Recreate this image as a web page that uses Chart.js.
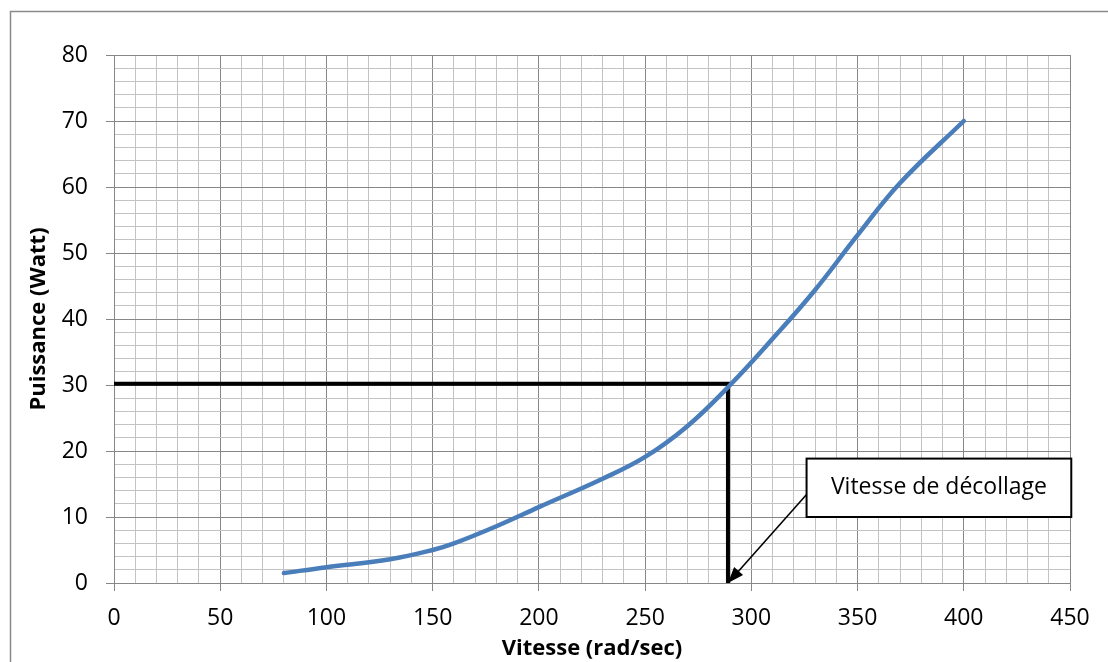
<!DOCTYPE html>
<html>
<head>
<meta charset="utf-8">
<script src="https://cdn.jsdelivr.net/npm/chart.js@4"></script>
<style>
  html, body { margin: 0; padding: 0; background: #fff; overflow: hidden; }
  #wrap { position: relative; width: 1108px; height: 662px; }
</style>
</head>
<body>
<div id="wrap"><canvas id="chart" width="1108" height="662"></canvas></div>
<script>
// Puissance en fonction de la vitesse
const vitesse = [80, 100, 130, 150, 160, 180, 200, 230, 250, 270, 290, 310, 330, 350, 370, 400];
const puissance = [1.5, 2.4, 3.6, 5.0, 6.0, 8.6, 11.5, 15.8, 19.1, 23.8, 30.0, 37.0, 44.4, 52.7, 60.6, 70.0];

// Lignes de lecture (vitesse de décollage)
const lectureX = [0, 289, 289];
const lectureY = [30.2, 30.2, 0];

// Bulle "Vitesse de décollage" : [xMin, xMax, yMin, yMax] et flèche [x0, y0, x1, y1]
const calloutText = 'Vitesse de décollage';
const calloutBox = [326, 450.6, 10, 18.85];
const calloutArrow = [326, 13.4, 289, 0];

const xTicksMajor = 50;
const yTicksMajor = 10;

const MAJOR = '#878787';
const MINOR = '#c3c3c3';

// Draw the outer frame and the callout over the chart
const decorPlugin = {
  id: 'decor',
  afterDraw: function(chart) {
    const ctx = chart.ctx;
    const xs = chart.scales.x;
    const ys = chart.scales.y;

    ctx.save();
    // outer frame (cut by the window on the right and bottom)
    ctx.strokeStyle = '#8a8a8a';
    ctx.lineWidth = 1.5;
    ctx.strokeRect(10.5, 11.5, 1400, 900);

    // callout box
    const bx0 = xs.getPixelForValue(calloutBox[0]);
    const bx1 = xs.getPixelForValue(calloutBox[1]);
    const by0 = ys.getPixelForValue(calloutBox[3]);
    const by1 = ys.getPixelForValue(calloutBox[2]);
    ctx.fillStyle = '#fff';
    ctx.fillRect(bx0, by0, bx1 - bx0, by1 - by0);
    ctx.strokeStyle = '#000';
    ctx.lineWidth = 2;
    ctx.strokeRect(bx0, by0, bx1 - bx0, by1 - by0);
    ctx.fillStyle = '#000';
    ctx.font = '23px "Open Sans"';
    ctx.textAlign = 'center';
    ctx.textBaseline = 'middle';
    ctx.fillText(calloutText, (bx0 + bx1) / 2, (by0 + by1) / 2);

    // arrow
    const ax0 = xs.getPixelForValue(calloutArrow[0]);
    const ay0 = ys.getPixelForValue(calloutArrow[1]);
    const ax1 = xs.getPixelForValue(calloutArrow[2]);
    const ay1 = ys.getPixelForValue(calloutArrow[3]);
    const ang = Math.atan2(ay1 - ay0, ax1 - ax0);
    const headLen = 16;
    const headW = 6;
    ctx.beginPath();
    ctx.moveTo(ax0, ay0);
    ctx.lineTo(ax1 - Math.cos(ang) * headLen * 0.8, ay1 - Math.sin(ang) * headLen * 0.8);
    ctx.lineWidth = 1.6;
    ctx.stroke();
    ctx.beginPath();
    ctx.moveTo(ax1, ay1);
    ctx.lineTo(ax1 - Math.cos(ang) * headLen - Math.sin(ang) * headW,
               ay1 - Math.sin(ang) * headLen + Math.cos(ang) * headW);
    ctx.lineTo(ax1 - Math.cos(ang) * headLen + Math.sin(ang) * headW,
               ay1 - Math.sin(ang) * headLen - Math.cos(ang) * headW);
    ctx.closePath();
    ctx.fill();
    ctx.restore();
  }
};

function points(xs, ys) {
  return xs.map(function(x, i) { return { x: x, y: ys[i] }; });
}

const tickFont = { family: '"Open Sans"', size: 23 };
const titleFont = { family: '"Open Sans"', size: 22, weight: 'bold' };

new Chart(document.getElementById('chart'), {
  type: 'scatter',
  data: {
    datasets: [
      {
        label: 'Puissance',
        data: points(vitesse, puissance),
        showLine: true,
        borderColor: '#4a7ebb',
        borderWidth: 4.5,
        borderCapStyle: 'round',
        borderJoinStyle: 'round',
        tension: 0.4,
        pointRadius: 0,
        order: 1
      },
      {
        label: 'Lecture',
        data: points(lectureX, lectureY),
        showLine: true,
        borderColor: '#000',
        borderWidth: 4,
        tension: 0,
        pointRadius: 0,
        order: 2
      }
    ]
  },
  plugins: [decorPlugin],
  options: {
    responsive: false,
    animation: false,
    events: [],
    layout: { padding: { top: 55, right: 38, left: 0, bottom: 0 } },
    plugins: {
      legend: { display: false },
      tooltip: { enabled: false }
    },
    scales: {
      x: {
        type: 'linear',
        min: 0,
        max: 450,
        afterFit: function(scale) { scale.height = 79; },
        border: { color: MAJOR, width: 1 },
        grid: {
          color: function(c) { return c.tick && c.tick.value % xTicksMajor === 0 ? MAJOR : MINOR; },
          tickColor: function(c) { return c.tick && c.tick.value % xTicksMajor === 0 ? MAJOR : 'rgba(0,0,0,0)'; },
          tickLength: 8,
          lineWidth: 1
        },
        ticks: {
          stepSize: 10,
          autoSkip: false,
          maxRotation: 0,
          color: '#000',
          font: tickFont,
          padding: 14,
          callback: function(v) { return v % xTicksMajor === 0 ? String(v) : ''; }
        },
        title: {
          display: true,
          text: 'Vitesse (rad/sec)',
          color: '#000',
          font: titleFont,
          padding: { top: 0, bottom: 0 }
        }
      },
      y: {
        type: 'linear',
        min: 0,
        max: 80,
        afterFit: function(scale) { scale.width = 114; },
        border: { color: MAJOR, width: 1 },
        grid: {
          color: function(c) { return c.tick && c.tick.value % yTicksMajor === 0 ? MAJOR : MINOR; },
          tickColor: function(c) { return c.tick && c.tick.value % yTicksMajor === 0 ? MAJOR : 'rgba(0,0,0,0)'; },
          tickLength: 8,
          lineWidth: 1
        },
        ticks: {
          stepSize: 2,
          autoSkip: false,
          color: '#000',
          font: tickFont,
          padding: 18,
          callback: function(v) { return v % yTicksMajor === 0 ? String(v) : ''; }
        },
        title: {
          display: true,
          text: 'Puissance (Watt)',
          color: '#000',
          font: titleFont,
          padding: { top: 26, bottom: 0 }
        }
      }
    }
  }
});
</script>
</body>
</html>
